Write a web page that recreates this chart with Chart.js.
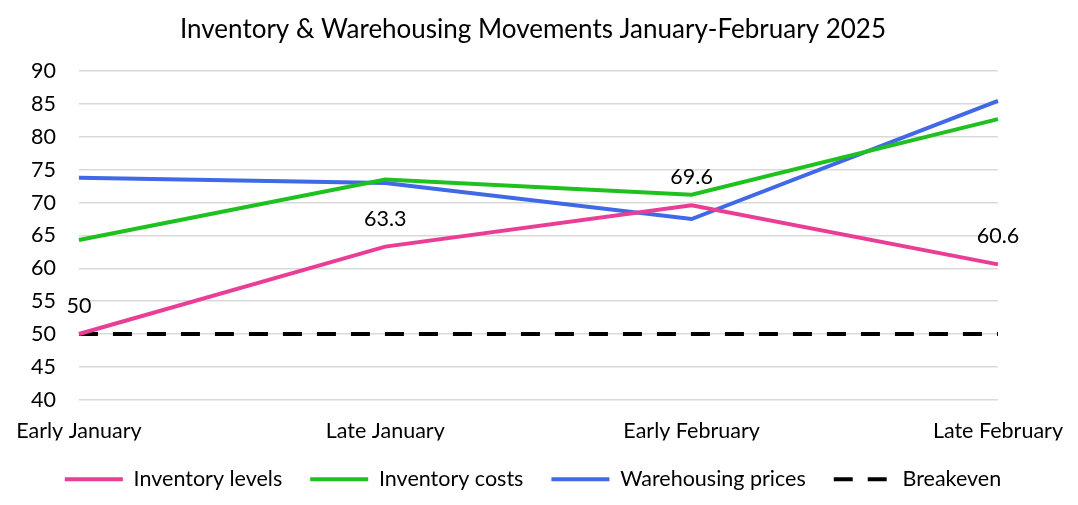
<!DOCTYPE html>
<html>
<head>
<meta charset="utf-8">
<script src="https://cdn.jsdelivr.net/npm/chart.js@4"></script>
<style>
  html, body { margin: 0; padding: 0; background: #fff; }
  #wrap { width: 1078px; height: 505px; position: relative; }
</style>
</head>
<body>
<div id="wrap"><canvas id="chart"></canvas></div>
<script>
// chart data
const periods = ["Early January", "Late January", "Early February", "Late February"];
const inventoryLevels = [50, 63.3, 69.6, 60.6];
const inventoryCosts = [64.3, 73.5, 71.2, 82.7];
const warehousingPrices = [73.8, 73.0, 67.5, 85.5];
const breakeven = [50, 50, 50, 50];
const yTicks = { min: 40, max: 90, step: 5 };

const FONT = "Lato, 'Liberation Sans', sans-serif";
const FS = 21.5;

// labels above the inventory level points
const pointLabels = {
  id: 'pointLabels',
  afterDatasetsDraw(chart) {
    const ctx = chart.ctx;
    const meta = chart.getDatasetMeta(0);
    ctx.save();
    ctx.font = FS + "px " + FONT;
    ctx.fillStyle = "#000";
    ctx.textAlign = "center";
    ctx.textBaseline = "middle";
    meta.data.forEach((pt, i) => {
      ctx.fillText(String(inventoryLevels[i]), pt.x, pt.y - 28);
    });
    ctx.restore();
  }
};

const ctx = document.getElementById('chart').getContext('2d');
new Chart(ctx, {
  type: 'line',
  data: {
    labels: periods,
    datasets: [
      { label: 'Inventory levels', data: inventoryLevels, borderColor: '#EA3D95', backgroundColor: '#EA3D95', borderWidth: 4, pointRadius: 0, tension: 0 },
      { label: 'Inventory costs', data: inventoryCosts, borderColor: '#1FC11F', backgroundColor: '#1FC11F', borderWidth: 4, pointRadius: 0, tension: 0 },
      { label: 'Warehousing prices', data: warehousingPrices, borderColor: '#3F69E6', backgroundColor: '#3F69E6', borderWidth: 4, pointRadius: 0, tension: 0 },
      { label: 'Breakeven', data: breakeven, borderColor: '#000', backgroundColor: '#000', borderWidth: 4, borderDash: [19, 15], pointRadius: 0, tension: 0 }
    ]
  },
  options: {
    responsive: true,
    maintainAspectRatio: false,
    animation: false,
    layout: { padding: { left: 8, right: 20, top: 6, bottom: 5 } },
    plugins: {
      title: {
        display: true,
        text: 'Inventory & Warehousing Movements January-February 2025',
        color: '#000',
        font: { family: FONT, size: 26, weight: 'normal' },
        padding: { top: 8, bottom: 26 }
      },
      legend: {
        position: 'bottom',
        labels: {
          color: '#000',
          font: { family: FONT, size: FS },
          usePointStyle: true,
          pointStyle: 'line',
          pointStyleWidth: 58,
          padding: 28,
          generateLabels(chart) {
            const items = Chart.defaults.plugins.legend.labels.generateLabels(chart);
            items.forEach(it => {
              const ds = chart.data.datasets[it.datasetIndex];
              it.lineDash = ds.borderDash || [];
              it.lineWidth = 4;
              it.strokeStyle = ds.borderColor;
              it.lineCap = 'butt';
            });
            return items;
          }
        }
      },
      tooltip: { enabled: false }
    },
    scales: {
      x: {
        grid: { display: false },
        border: { display: false },
        ticks: { color: '#000', font: { family: FONT, size: FS }, maxRotation: 0, padding: 10 },
        afterFit(scale) { scale.height -= 13; scale.paddingRight += 5; }
      },
      y: {
        min: yTicks.min,
        max: yTicks.max,
        grid: { color: '#D9D9D9', lineWidth: 1.5, drawTicks: false },
        border: { display: false },
        ticks: { stepSize: yTicks.step, color: '#000', font: { family: FONT, size: FS }, padding: 23 }
      }
    }
  },
  plugins: [pointLabels]
});
</script>
</body>
</html>
